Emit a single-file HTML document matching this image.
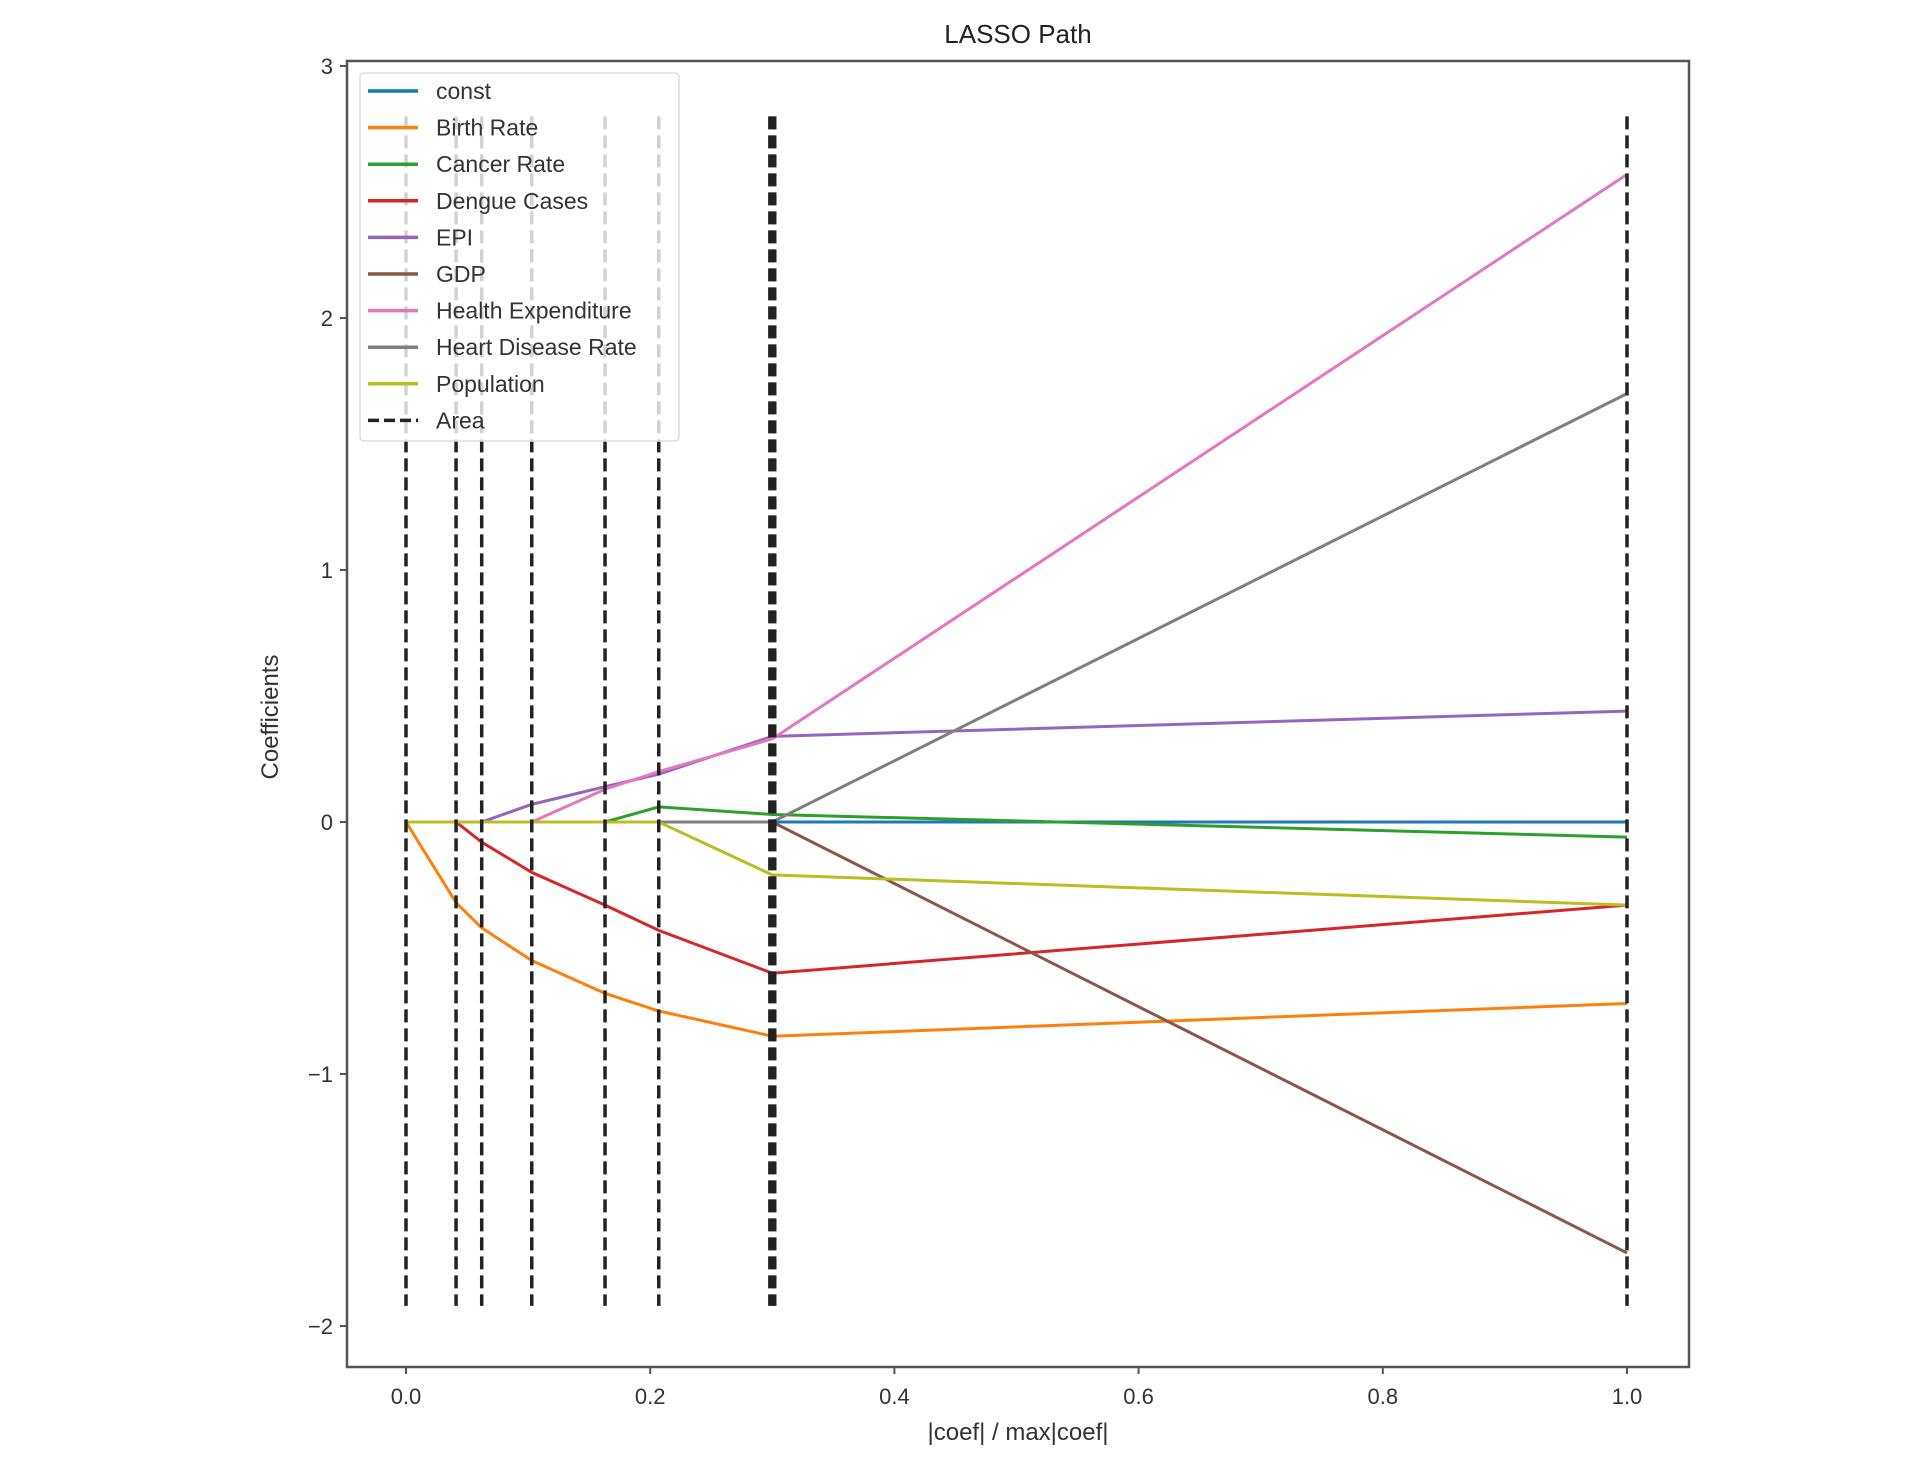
<!DOCTYPE html>
<html><head><meta charset="utf-8"><style>
body{margin:0;background:#fff;}
svg{display:block;font-family:"Liberation Sans",sans-serif;}
</style></head><body>
<svg id="chart" width="1920" height="1464">
<text x="1018" y="43" text-anchor="middle" font-size="26" fill="#222">LASSO Path</text>
<g id="plot"></g>
<rect x="347" y="61" width="1342" height="1306" fill="none" stroke="#555" stroke-width="2.5"/>
<text x="1018" y="1440" text-anchor="middle" font-size="24" fill="#333">|coef| / max|coef|</text>
<text transform="translate(278,717) rotate(-90)" text-anchor="middle" font-size="24" fill="#333">Coefficients</text>
</svg>
<script>
const xs = [0, 0.041, 0.062, 0.103, 0.163, 0.207, 0.30, 1.0];
const seriesNames = ["const","Birth Rate","Cancer Rate","Dengue Cases","EPI","GDP","Health Expenditure","Heart Disease Rate","Population"];
const constVals = [0,0,0,0,0,0,0,0];
const birthRate = [0,-0.32,-0.42,-0.55,-0.68,-0.75,-0.85,-0.72];
const cancerRate = [0,0,0,0,0,0.06,0.03,-0.06];
const dengueCases = [0,0,-0.08,-0.2,-0.33,-0.43,-0.6,-0.33];
const epi = [0,0,0,0.07,0.14,0.19,0.34,0.44];
const gdp = [0,0,0,0,0,0,0,-1.71];
const healthExp = [0,0,0,0,0.13,0.2,0.33,2.57];
const heartDisease = [0,0,0,0,0,0,0,1.7];
const population = [0,0,0,0,0,0,-0.21,-0.33];
const alphaXs = [0,0.041,0.062,0.103,0.163,0.207,0.298,0.300,0.302,1.0];
const xTicks = [0,0.2,0.4,0.6,0.8,1.0];
const xTickLabels = ["0.0","0.2","0.4","0.6","0.8","1.0"];
const yTicks = [-2,-1,0,1,2,3];
const yTickLabels = ["\u22122","\u22121","0","1","2","3"];
const vMin = -1.92, vMax = 2.8;

const allSeries=[constVals,birthRate,cancerRate,dengueCases,epi,gdp,healthExp,heartDisease,population];
const colors=["#1f77b4","#ff7f0e","#2ca02c","#d62728","#9467bd","#8c564b","#e377c2","#7f7f7f","#bcbd22"];
const X=v=>406+v*1221;
const Y=v=>822-v*252;
const NS="http://www.w3.org/2000/svg";
const plot=document.getElementById('plot');
const svg=document.getElementById('chart');
function mk(tag,attrs,parent){const e=document.createElementNS(NS,tag);for(const k in attrs)e.setAttribute(k,attrs[k]);(parent||plot).appendChild(e);return e;}
// ticks
xTicks.forEach((t,i)=>{
  const l=mk('line',{x1:X(t),x2:X(t),y1:1367,y2:1374,stroke:'#555','stroke-width':2});
  
  
  const tx=mk('text',{x:X(t),y:1404,'text-anchor':'middle','font-size':22,fill:'#333'});
  tx.textContent=xTickLabels[i];
  
  
});
yTicks.forEach((t,i)=>{
  const l=mk('line',{x1:340,x2:347,y1:Y(t),y2:Y(t),stroke:'#555','stroke-width':2});
  
  
  const tx=mk('text',{x:333,y:Y(t)+8,'text-anchor':'end','font-size':22,fill:'#333'});
  tx.textContent=yTickLabels[i];
  
  
});
// series
allSeries.forEach((s,k)=>{
  const p=mk('polyline',{points:s.map((v,i)=>X(xs[i])+','+Y(v)).join(' '),fill:'none',stroke:colors[k],'stroke-width':3});
  
  
});
// vlines
alphaXs.forEach(a=>{
  const l=mk('line',{x1:X(a),x2:X(a),y1:Y(vMax),y2:Y(vMin),stroke:'#222','stroke-width':3.5,'stroke-dasharray':'13,6'});
  
  
});
// legend
const lg=mk('g',{},svg);


mk('rect',{x:360,y:73,width:319,height:368,rx:4,fill:'rgba(255,255,255,0.8)',stroke:'#ddd','stroke-width':1.5},lg);
const legNames=seriesNames.concat(["Area"]);
legNames.forEach((n,i)=>{
  const y=91+i*36.6;
  const isArea=i===legNames.length-1;
  const l=mk('line',{x1:368,x2:418,y1:y,y2:y,stroke:isArea?'#222':colors[i],'stroke-width':3.5,'stroke-dasharray':isArea?'11,5':'none'},lg);
  
  
  const t=mk('text',{x:436,y:y+8,'font-size':23,fill:'#333'},lg);
  t.textContent=n;
  
  
});
</script>
</body></html>
